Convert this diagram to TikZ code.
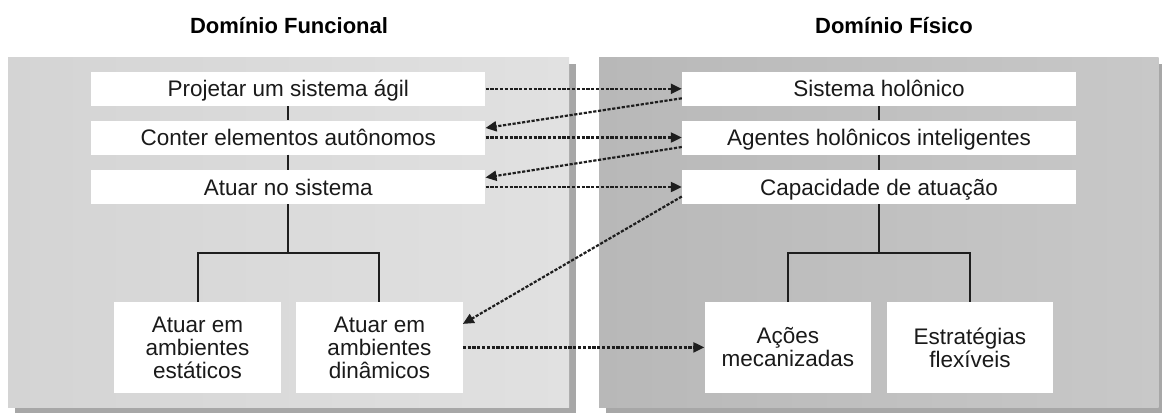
\documentclass[tikz,border=0pt]{standalone}
\usepackage{fontspec}
\setmainfont{Liberation Sans}
\usetikzlibrary{arrows.meta,calc}

\definecolor{panelshadow}{HTML}{A7A7A7}
\definecolor{funcleft}{HTML}{D4D4D4}
\definecolor{funcright}{HTML}{E1E1E1}
\definecolor{physleft}{HTML}{B8B8B8}
\definecolor{physright}{HTML}{C8C8C8}
\definecolor{inktext}{HTML}{1A1A1A}
\definecolor{inkline}{HTML}{1E1E1E}

\newcommand\diagbody{\fontsize{22.5}{23}\selectfont}
\newcommand\diagtitle{\fontsize{22}{24}\selectfont\bfseries}

\tikzset{
  rowbox/.style={fill=white, inner sep=0pt, minimum width=394pt, minimum height=34pt,
    font=\diagbody, text=inktext, text height=16pt, text depth=0pt},
  leafbox/.style={fill=white, inner sep=0pt, minimum width=166.5pt, minimum height=90.7pt,
    font=\diagbody, text=inktext, align=center},
  treeline/.style={draw=inkline, line width=2pt},
  link/.style={draw=inkline, line width=2.2pt, dash pattern=on 3.2pt off 1.6pt,
    -{Triangle[length=11pt,width=10pt]}},
  paneltitle/.style={font=\diagtitle, text=black, anchor=base, inner sep=0pt}
}

\begin{document}
\begin{tikzpicture}[x=1pt,y=-1pt]
\useasboundingbox (0,0) rectangle (1162,413);
\fill[white] (0,0) rectangle (1162,413);

% panels with their drop shadows
\fill[panelshadow] (15,64) rectangle (576,413);
\shade[left color=funcleft, right color=funcright] (8,57) rectangle (569,407);
\fill[panelshadow] (606,64) rectangle (1162,413);
\shade[left color=physleft, right color=physright] (599,57) rectangle (1158.5,407);

% titles
\node[paneltitle] (tfunc) at (289,33.3) {Domínio Funcional};
\node[paneltitle] (tphys) at (894,33.3) {Domínio Físico};

% functional domain
\node[rowbox] (f1) at (288.3,88.8) {Projetar um sistema ágil};
\node[rowbox] (f2) at (288.3,137.5) {Conter elementos autônomos};
\node[rowbox] (f3) at (288.3,187) {Atuar no sistema};
\node[leafbox] (f4) at (197.5,347.4) {Atuar em\\ambientes\\estáticos};
\node[leafbox] (f5) at (379.4,347.4) {Atuar em\\ambientes\\dinâmicos};

% physical domain
\node[rowbox] (p1) at (879,88.8) {Sistema holônico};
\node[rowbox] (p2) at (879,137.5) {Agentes holônicos inteligentes};
\node[rowbox] (p3) at (879,187) {Capacidade de atuação};
\node[leafbox] (p4) at (787.8,347.4) {Ações\\mecanizadas};
\node[leafbox] (p5) at (969.9,347.4) {Estratégias\\flexíveis};

% hierarchy lines
\coordinate (ffork) at (288.3,253);
\coordinate (pfork) at (879,253);
\draw[treeline] (f1.south) -- (f2.north);
\draw[treeline] (f2.south) -- (f3.north);
\draw[treeline] (f3.south) -- (ffork);
\draw[treeline] (f4.north) |- (ffork) -| (f5.north);
\draw[treeline] (p1.south) -- (p2.north);
\draw[treeline] (p2.south) -- (p3.north);
\draw[treeline] (p3.south) -- (pfork);
\draw[treeline] (p4.north) |- (pfork) -| (p5.north);

% zigzag mapping between domains
\draw[link] (f1.east) -- (p1.west);
\draw[link] ($(p1.west)+(0,9.5)$) -- ($(f2.east)+(0,-9.5)$);
\draw[link] (f2.east) -- (p2.west);
\draw[link] ($(p2.west)+(0,9.5)$) -- ($(f3.east)+(0,-9.5)$);
\draw[link] (f3.east) -- (p3.west);
\draw[link] ($(p3.west)+(0,9.5)$) -- ($(f5.east)+(0,-23.5)$);
\draw[link] (f5.east) -- (p4.west);
\end{tikzpicture}
\end{document}
